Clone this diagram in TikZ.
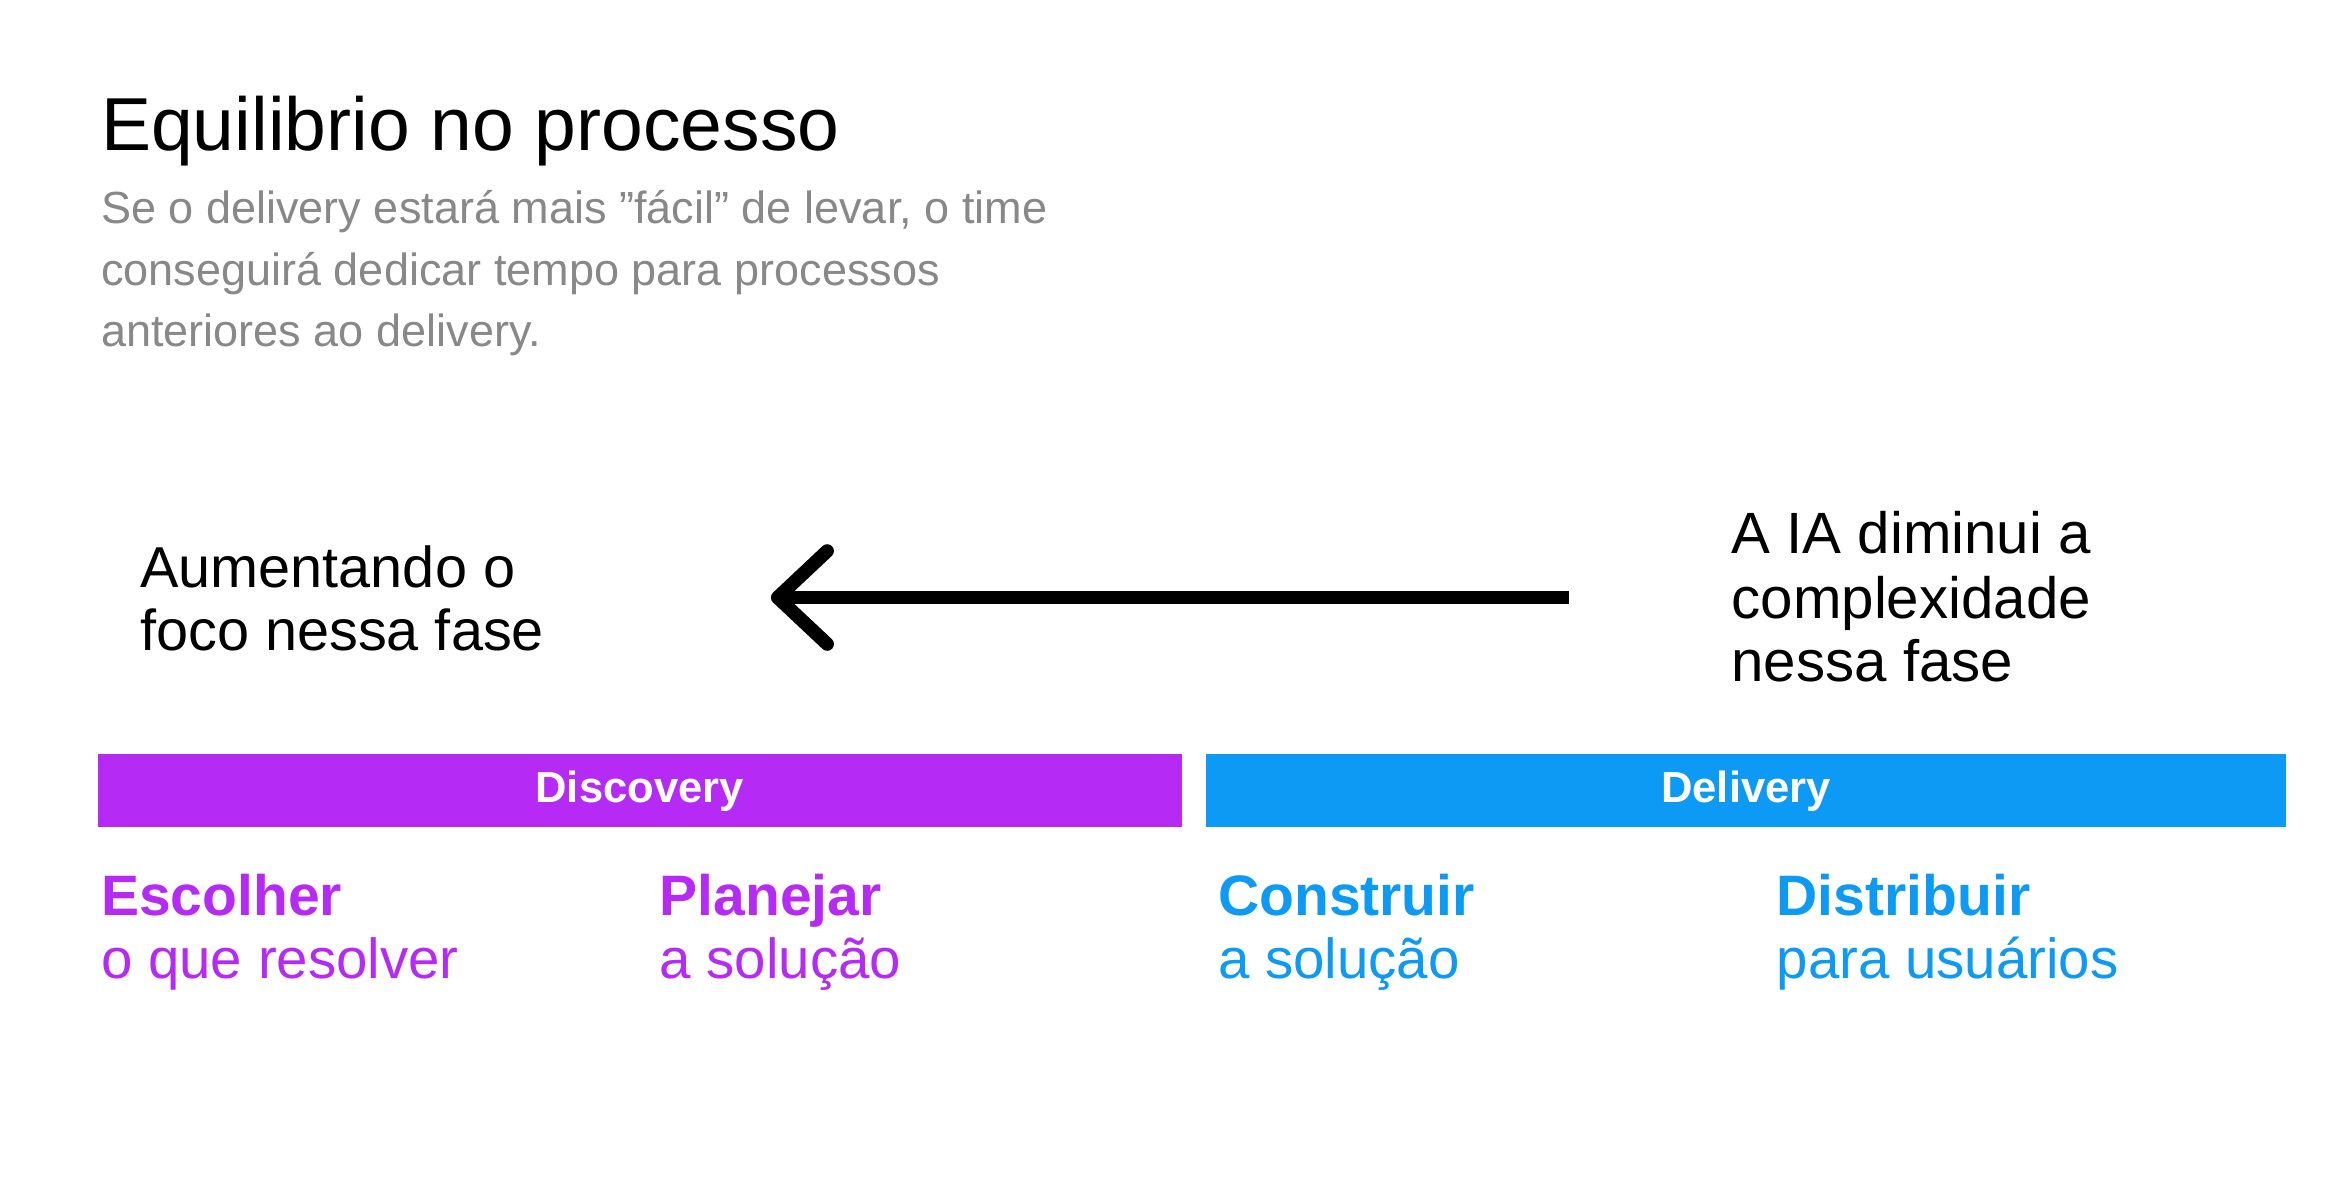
\documentclass[tikz,border=0pt]{standalone}
\usepackage{fontspec}
\setmainfont{Liberation Sans}
\definecolor{purp}{HTML}{B52BF5}
\definecolor{blu}{HTML}{0C9AF5}
\definecolor{sub}{HTML}{888888}
\begin{document}
\begin{tikzpicture}[x=0.5pt,y=-0.5pt,
  txt/.style={anchor=base west,inner sep=0pt,align=left},
  bar/.style={inner sep=0pt,text=white,font=\bfseries\fontsize{14.5}{16}\selectfont},
  phase/.style={anchor=base west,inner sep=0pt,font=\bfseries\fontsize{19}{22}\selectfont},
  phsub/.style={anchor=base west,inner sep=0pt,font=\fontsize{18.8}{22}\selectfont}]
\fill[white] (0,0) rectangle (1560,793);
\node[txt,font=\fontsize{25}{30}\selectfont] (title) at (67,100) {Equilibrio no processo};
\node[txt,text=sub,font=\fontsize{15}{20.5}\selectfont] (sub1) at (67,149) {Se o delivery estará mais ”fácil” de levar, o time};
\node[txt,text=sub,font=\fontsize{15}{20.5}\selectfont] (sub2) at (67,190) {conseguirá dedicar tempo para processos};
\node[txt,text=sub,font=\fontsize{15}{20.5}\selectfont] (sub3) at (67,231) {anteriores ao delivery.};
\node[txt,font=\fontsize{19.2}{21}\selectfont] (l1) at (93,391) {Aumentando o};
\node[txt,font=\fontsize{19.2}{21}\selectfont] (l2) at (93,433) {foco nessa fase};
\node[txt,font=\fontsize{19.4}{21}\selectfont] (r1) at (1153,369) {A IA diminui a};
\node[txt,font=\fontsize{19.4}{21}\selectfont] (r2) at (1153,412) {complexidade};
\node[txt,font=\fontsize{19.4}{21}\selectfont] (r3) at (1153,454) {nessa fase};
\coordinate (as) at (1045,398);
\coordinate (ae) at (518,398);
\draw[line width=4.5pt] (as) -- (ae);
\draw[line width=4.5pt,line cap=round,line join=round] (551,367) -- (ae) -- (551,429);
\fill[purp] (65,502) rectangle (787,551);
\fill[blu] (803,502) rectangle (1523,551);
\node[bar] (disc) at (426,527) {Discovery};
\node[bar] (deli) at (1163,527) {Delivery};
\node[phase,text=purp] (p1) at (67,610) {Escolher};
\node[phsub,text=purp] (p1b) at (67,652) {o que resolver};
\node[phase,text=purp] (p2) at (439,610) {Planejar};
\node[phsub,text=purp] (p2b) at (439,652) {a solução};
\node[phase,text=blu] (p3) at (811,610) {Construir};
\node[phsub,text=blu] (p3b) at (811,652) {a solução};
\node[phase,text=blu] (p4) at (1183,610) {Distribuir};
\node[phsub,text=blu] (p4b) at (1183,652) {para usuários};
\end{tikzpicture}
\end{document}
